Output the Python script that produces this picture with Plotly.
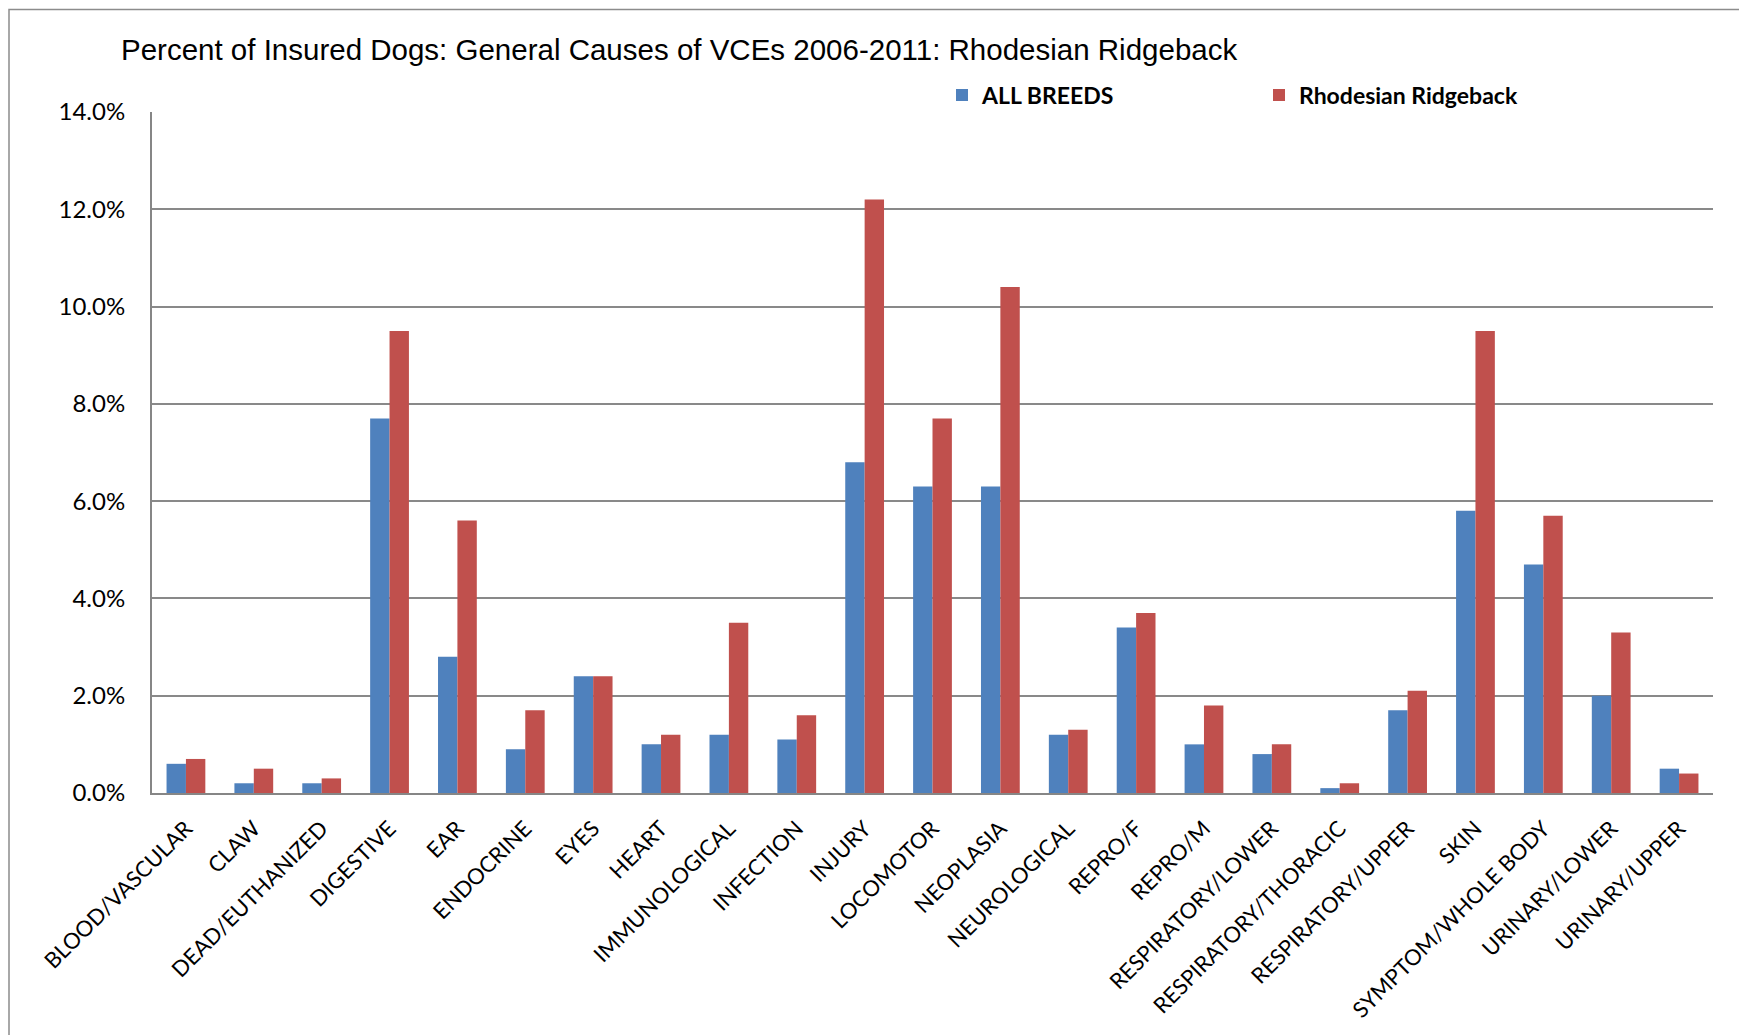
import plotly.graph_objects as go

categories = ["BLOOD/VASCULAR", "CLAW", "DEAD/EUTHANIZED", "DIGESTIVE", "EAR", "ENDOCRINE",
              "EYES", "HEART", "IMMUNOLOGICAL", "INFECTION", "INJURY", "LOCOMOTOR",
              "NEOPLASIA", "NEUROLOGICAL", "REPRO/F", "REPRO/M", "RESPIRATORY/LOWER",
              "RESPIRATORY/THORACIC", "RESPIRATORY/UPPER", "SKIN", "SYMPTOM/WHOLE BODY",
              "URINARY/LOWER", "URINARY/UPPER"]
all_breeds = [0.6, 0.2, 0.2, 7.7, 2.8, 0.9, 2.4, 1.0, 1.2, 1.1, 6.8, 6.3,
              6.3, 1.2, 3.4, 1.0, 0.8, 0.1, 1.7, 5.8, 4.7, 2.0, 0.5]
ridgeback = [0.7, 0.5, 0.3, 9.5, 5.6, 1.7, 2.4, 1.2, 3.5, 1.6, 12.2, 7.7,
             10.4, 1.3, 3.7, 1.8, 1.0, 0.2, 2.1, 9.5, 5.7, 3.3, 0.4]
y_ticks = [0, 2, 4, 6, 8, 10, 12, 14]
y_tick_labels = ["0.0%", "2.0%", "4.0%", "6.0%", "8.0%", "10.0%", "12.0%", "14.0%"]

OFF = 8  # page body margin
W, H = 1747 - OFF, 1035 - OFF
L, R, T, B = 152 - OFF, 34, 112 - OFF, 239
pw, ph = W - L - R, H - T - B

fig = go.Figure()
fig.add_trace(go.Bar(x=categories, y=all_breeds, name="ALL BREEDS",
                     marker=dict(color="#4F81BD", line=dict(width=0))))
fig.add_trace(go.Bar(x=categories, y=ridgeback, name="Rhodesian Ridgeback",
                     marker=dict(color="#C0504D", line=dict(width=0))))

fig.update_layout(
    width=W, height=H,
    margin=dict(l=L, r=R, t=T, b=B, pad=0),
    paper_bgcolor="white", plot_bgcolor="white",
    barmode="group", bargap=0.4286, bargroupgap=0,
    title=dict(text="Percent of Insured Dogs: General Causes of VCEs 2006-2011: Rhodesian Ridgeback",
               font=dict(family="Liberation Sans", size=29.5, color="black"),
               x=(121 - OFF) / W, xanchor="left", xref="container",
               y=1 - (50 - OFF) / H, yanchor="middle", yref="container"),
    legend=dict(orientation="h", x=(942 - 152) / pw, xanchor="left",
                y=(1035 - 239 - 95) / ph, yanchor="middle",
                font=dict(family="Lato", size=23, color="black", weight="bold"),
                entrywidth=272, entrywidthmode="pixels",
                bgcolor="rgba(0,0,0,0)", borderwidth=0, itemclick=False),
    xaxis=dict(tickangle=-45, tickfont=dict(family="Lato", size=22, color="black"),
               showline=True, linecolor="#868686", linewidth=2, ticks="",
               ticklabelstandoff=12, showgrid=False),
    yaxis=dict(range=[0, 14], tickvals=y_ticks, ticktext=y_tick_labels,
               tickfont=dict(family="Lato", size=24, color="black"),
               showline=True, linecolor="#868686", linewidth=2, ticks="",
               ticklabelstandoff=20,
               showgrid=True, gridcolor="#898989", gridwidth=1.5, zeroline=False),
    shapes=[dict(type="rect", xref="paper", yref="paper",
                 x0=(9 - 152) / pw, x1=1 + (R + 20) / pw,
                 y0=-(B + 20) / ph, y1=1 + (112 - 9) / ph,
                 line=dict(color="#8C8C8C", width=1.5), fillcolor="rgba(0,0,0,0)", layer="below")],
)

fig.write_html("out.html")
